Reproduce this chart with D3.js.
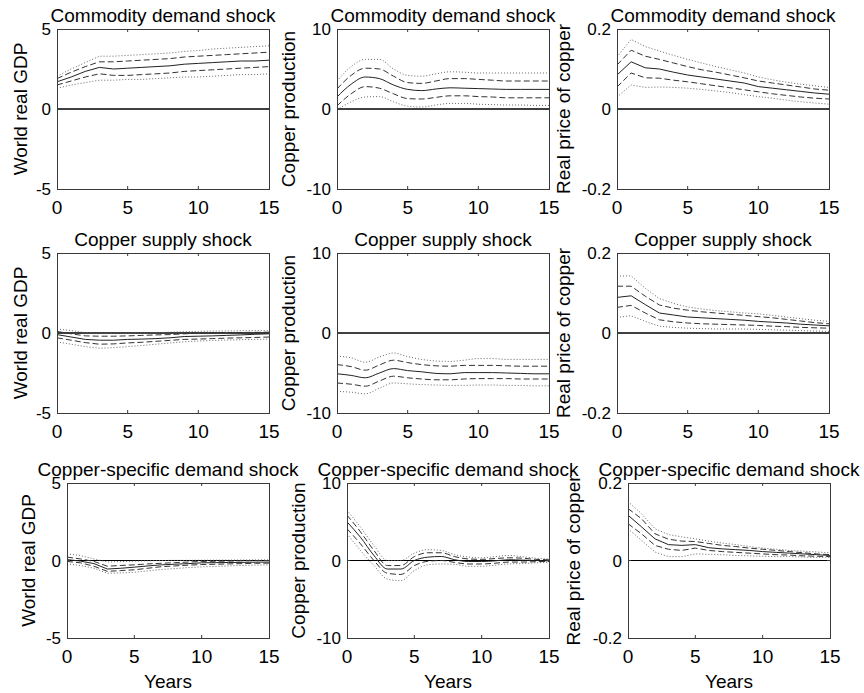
<!DOCTYPE html>
<html lang="en">
<head>
<meta charset="UTF-8">
<title>Impulse responses</title>
<style>
    body { margin: 0; padding: 0; background: #fff; overflow: hidden; }
    svg { display: block; font-family: "Liberation Sans", Arial, sans-serif; }
    .frame { fill: none; stroke: #3a3a3a; stroke-width: 1; }
    .zero { stroke: #000; }
    .med { fill: none; stroke: #222; stroke-width: 1; }
    .band1 { fill: none; stroke: #333; stroke-width: 1; stroke-dasharray: 6,3; }
    .band2 { fill: none; stroke: #666; stroke-width: 1; stroke-dasharray: 1,2; }
</style>
<script src="https://cdn.jsdelivr.net/npm/d3@7/dist/d3.min.js"></script>
</head>
<body>
<div id="chart"></div>
<script>
// horizon (years)
const years = [0, 1, 2, 3, 4, 5, 6, 7, 8, 9, 10, 11, 12, 13, 14, 15];
const xTicks = [0, 5, 10, 15];

const shocks = ["Commodity demand shock", "Copper supply shock", "Copper-specific demand shock"];
const variables = ["World real GDP", "Copper production", "Real price of copper"];
const yLimits = [5, 10, 0.2];
const yTickLabels = [["-5", "0", "5"], ["-10", "0", "10"], ["-0.2", "0", "0.2"]];

// commodity demand shock
const cdGdpMed = [1.7, 2.0, 2.35, 2.6, 2.5, 2.55, 2.6, 2.65, 2.7, 2.8, 2.85, 2.9, 2.95, 3.0, 3.0, 3.05];
const cdGdpHi1 = [1.9, 2.3, 2.65, 2.95, 2.95, 3.0, 3.05, 3.1, 3.15, 3.25, 3.3, 3.35, 3.4, 3.45, 3.5, 3.55];
const cdGdpLo1 = [1.5, 1.75, 2.0, 2.2, 2.1, 2.1, 2.15, 2.2, 2.25, 2.35, 2.4, 2.45, 2.5, 2.55, 2.6, 2.65];
const cdGdpHi2 = [2.05, 2.5, 2.9, 3.3, 3.3, 3.35, 3.4, 3.45, 3.5, 3.6, 3.65, 3.75, 3.8, 3.85, 3.9, 3.95];
const cdGdpLo2 = [1.3, 1.5, 1.65, 1.8, 1.8, 1.85, 1.85, 1.9, 1.95, 2.0, 2.0, 2.05, 2.1, 2.15, 2.15, 2.2];

const cdProdMed = [1.5, 3.1, 4.0, 3.8, 3.0, 2.45, 2.3, 2.5, 2.65, 2.6, 2.55, 2.5, 2.45, 2.45, 2.45, 2.45];
const cdProdHi1 = [2.5, 4.2, 5.1, 5.0, 4.1, 3.3, 3.2, 3.5, 3.8, 3.8, 3.7, 3.6, 3.5, 3.5, 3.5, 3.5];
const cdProdLo1 = [0.4, 1.9, 2.8, 2.6, 1.9, 1.3, 1.25, 1.45, 1.65, 1.65, 1.55, 1.5, 1.4, 1.4, 1.4, 1.4];
const cdProdHi2 = [3.5, 5.3, 6.2, 6.2, 5.0, 4.2, 4.1, 4.4, 4.65, 4.6, 4.5, 4.5, 4.5, 4.5, 4.5, 4.5];
const cdProdLo2 = [-0.1, 0.9, 1.5, 1.55, 0.9, 0.35, 0.25, 0.5, 0.7, 0.7, 0.6, 0.55, 0.5, 0.5, 0.45, 0.45];

const cdPriceMed = [0.085, 0.118, 0.103, 0.1, 0.092, 0.085, 0.08, 0.075, 0.07, 0.065, 0.056, 0.052, 0.048, 0.044, 0.04, 0.037];
const cdPriceHi1 = [0.11, 0.147, 0.132, 0.124, 0.115, 0.106, 0.098, 0.092, 0.085, 0.078, 0.07, 0.065, 0.06, 0.055, 0.05, 0.047];
const cdPriceLo1 = [0.055, 0.09, 0.078, 0.077, 0.072, 0.068, 0.063, 0.058, 0.053, 0.048, 0.043, 0.038, 0.034, 0.03, 0.027, 0.025];
const cdPriceHi2 = [0.13, 0.174, 0.156, 0.145, 0.134, 0.124, 0.115, 0.106, 0.098, 0.09, 0.08, 0.073, 0.067, 0.062, 0.058, 0.054];
const cdPriceLo2 = [0.03, 0.06, 0.054, 0.055, 0.054, 0.052, 0.049, 0.045, 0.041, 0.036, 0.031, 0.027, 0.022, 0.018, 0.015, 0.012];

// copper supply shock
const csGdpMed = [-0.1, -0.25, -0.4, -0.45, -0.45, -0.4, -0.38, -0.35, -0.3, -0.22, -0.2, -0.18, -0.15, -0.12, -0.08, -0.05];
const csGdpHi1 = [0.1, -0.05, -0.18, -0.2, -0.2, -0.18, -0.15, -0.12, -0.1, -0.05, -0.02, 0, 0.02, 0.03, 0.04, 0.05];
const csGdpLo1 = [-0.3, -0.45, -0.6, -0.7, -0.68, -0.62, -0.58, -0.52, -0.46, -0.4, -0.38, -0.35, -0.32, -0.3, -0.28, -0.25];
const csGdpHi2 = [0.25, 0.15, 0.02, 0, 0, 0, 0, 0.02, 0.05, 0.08, 0.1, 0.12, 0.13, 0.14, 0.15, 0.15];
const csGdpLo2 = [-0.55, -0.7, -0.85, -0.95, -0.92, -0.85, -0.78, -0.7, -0.62, -0.55, -0.5, -0.47, -0.44, -0.42, -0.4, -0.38];

const csProdMed = [-5.1, -5.3, -5.6, -5.0, -4.45, -4.7, -4.85, -5.05, -5.1, -4.95, -4.95, -4.95, -5.0, -5.05, -5.1, -5.1];
const csProdHi1 = [-3.95, -4.2, -4.65, -4.0, -3.4, -3.7, -3.95, -4.1, -4.15, -4.05, -4.05, -4.05, -4.1, -4.15, -4.15, -4.15];
const csProdLo1 = [-6.25, -6.4, -6.65, -6.0, -5.4, -5.6, -5.75, -5.85, -5.85, -5.75, -5.7, -5.7, -5.7, -5.75, -5.75, -5.75];
const csProdHi2 = [-2.9, -3.1, -3.65, -3.0, -2.5, -2.95, -3.3, -3.5, -3.55, -3.4, -3.2, -3.2, -3.3, -3.3, -3.3, -3.3];
const csProdLo2 = [-7.3, -7.4, -7.6, -6.9, -6.25, -6.35, -6.45, -6.5, -6.55, -6.55, -6.5, -6.5, -6.55, -6.55, -6.6, -6.6];

const csPriceMed = [0.089, 0.093, 0.071, 0.05, 0.045, 0.04, 0.038, 0.036, 0.034, 0.032, 0.029, 0.027, 0.025, 0.022, 0.02, 0.018];
const csPriceHi1 = [0.117, 0.117, 0.092, 0.07, 0.062, 0.057, 0.053, 0.05, 0.047, 0.044, 0.041, 0.038, 0.034, 0.03, 0.026, 0.023];
const csPriceLo1 = [0.064, 0.069, 0.05, 0.033, 0.028, 0.025, 0.023, 0.022, 0.021, 0.02, 0.019, 0.017, 0.016, 0.014, 0.013, 0.012];
const csPriceHi2 = [0.142, 0.143, 0.112, 0.086, 0.074, 0.065, 0.06, 0.056, 0.053, 0.05, 0.048, 0.044, 0.04, 0.036, 0.032, 0.029];
const csPriceLo2 = [0.039, 0.043, 0.029, 0.017, 0.014, 0.012, 0.011, 0.01, 0.01, 0.01, 0.009, 0.008, 0.007, 0.006, 0.005, 0.004];

// copper-specific demand shock
const sdGdpMed = [0.06, -0.04, -0.2, -0.55, -0.5, -0.43, -0.35, -0.28, -0.24, -0.2, -0.15, -0.14, -0.13, -0.12, -0.11, -0.1];
const sdGdpHi1 = [0.22, 0.1, -0.06, -0.37, -0.32, -0.28, -0.22, -0.18, -0.14, -0.1, -0.06, -0.05, -0.04, -0.02, -0.01, 0];
const sdGdpLo1 = [-0.06, -0.15, -0.37, -0.7, -0.65, -0.6, -0.5, -0.4, -0.35, -0.3, -0.26, -0.24, -0.22, -0.2, -0.18, -0.17];
const sdGdpHi2 = [0.43, 0.32, 0.1, -0.1, -0.07, -0.04, -0.02, 0, 0.01, 0.01, 0.02, 0.02, 0.03, 0.03, 0.04, 0.04];
const sdGdpLo2 = [-0.22, -0.32, -0.5, -0.82, -0.8, -0.76, -0.67, -0.58, -0.52, -0.46, -0.41, -0.38, -0.35, -0.32, -0.3, -0.28];

const sdProdMed = [4.98, 3.0, 0.65, -1.1, -1.1, 0.0, 0.43, 0.52, 0.1, -0.13, -0.13, -0.05, 0.1, 0.05, 0.0, -0.05];
const sdProdHi1 = [5.85, 3.7, 1.3, -0.65, -0.65, 0.5, 1.0, 1.0, 0.5, 0.2, 0.15, 0.25, 0.35, 0.3, 0.15, 0.1];
const sdProdLo1 = [4.1, 2.15, 0.0, -1.65, -1.8, -0.65, -0.1, 0.0, -0.25, -0.45, -0.45, -0.35, -0.2, -0.2, -0.15, -0.12];
const sdProdHi2 = [6.5, 4.3, 1.95, 0.0, 0.0, 0.95, 1.4, 1.3, 0.75, 0.45, 0.35, 0.5, 0.65, 0.5, 0.3, 0.2];
const sdProdLo2 = [3.45, 1.3, -0.65, -2.4, -2.6, -1.3, -0.55, -0.45, -0.5, -0.75, -0.75, -0.6, -0.45, -0.4, -0.3, -0.25];

const sdPriceMed = [0.117, 0.087, 0.056, 0.041, 0.039, 0.041, 0.033, 0.03, 0.028, 0.026, 0.023, 0.021, 0.019, 0.017, 0.015, 0.013];
const sdPriceHi1 = [0.134, 0.108, 0.069, 0.055, 0.05, 0.049, 0.044, 0.039, 0.036, 0.032, 0.029, 0.026, 0.023, 0.02, 0.017, 0.015];
const sdPriceLo1 = [0.095, 0.069, 0.039, 0.029, 0.026, 0.032, 0.026, 0.023, 0.021, 0.019, 0.017, 0.015, 0.014, 0.012, 0.011, 0.01];
const sdPriceHi2 = [0.152, 0.121, 0.082, 0.067, 0.061, 0.056, 0.05, 0.045, 0.041, 0.036, 0.032, 0.029, 0.026, 0.024, 0.022, 0.02];
const sdPriceLo2 = [0.082, 0.052, 0.022, 0.01, 0.01, 0.017, 0.016, 0.015, 0.013, 0.012, 0.011, 0.01, 0.01, 0.009, 0.008, 0.008];

// panels[row][col] -> [lo2, lo1, med, hi1, hi2]
const panels = [
    [[cdGdpLo2, cdGdpLo1, cdGdpMed, cdGdpHi1, cdGdpHi2],
     [cdProdLo2, cdProdLo1, cdProdMed, cdProdHi1, cdProdHi2],
     [cdPriceLo2, cdPriceLo1, cdPriceMed, cdPriceHi1, cdPriceHi2]],
    [[csGdpLo2, csGdpLo1, csGdpMed, csGdpHi1, csGdpHi2],
     [csProdLo2, csProdLo1, csProdMed, csProdHi1, csProdHi2],
     [csPriceLo2, csPriceLo1, csPriceMed, csPriceHi1, csPriceHi2]],
    [[sdGdpLo2, sdGdpLo1, sdGdpMed, sdGdpHi1, sdGdpHi2],
     [sdProdLo2, sdProdLo1, sdProdMed, sdProdHi1, sdProdHi2],
     [sdPriceLo2, sdPriceLo1, sdPriceMed, sdPriceHi1, sdPriceHi2]]
];

const rowTop = [29, 253, 483];
const rowBottom = [189, 413, 638];
const colLeft = [[57, 337, 617], [57, 337, 617], [67, 347, 628]];
const colWidth = [212, 212, 202];
const labelGap = [[30, 42, 47], [30, 42, 47], [32, 42, 48]];
const font = '"Liberation Sans", Arial, sans-serif';

const svg = d3.select('#chart').append('svg')
    .attr('width', 864)
    .attr('height', 693);

const bandClass = ['band2', 'band1', 'med', 'band1', 'band2'];

panels.forEach((row, r) => {
    row.forEach((series, c) => {
        const left = colLeft[r][c];
        const right = left + colWidth[r];
        const top = rowTop[r];
        const bottom = rowBottom[r];
        const lim = yLimits[c];

        const x = d3.scaleLinear().domain([0, 15]).range([left, right]);
        const y = d3.scaleLinear().domain([-lim, lim]).range([bottom, top]);

        const g = svg.append('g');
        const clipId = `clip-${r}-${c}`;
        g.append('clipPath').attr('id', clipId)
            .append('rect')
            .attr('x', left).attr('y', top)
            .attr('width', right - left).attr('height', bottom - top);

        // zero line
        g.append('line')
            .attr('class', 'zero')
            .attr('x1', left).attr('x2', right)
            .attr('y1', y(0)).attr('y2', y(0))
            .attr('stroke-width', r < 2 ? 1.6 : 1);

        // responses
        const line = d3.line()
            .x((d, i) => x(years[i]))
            .y(d => y(d))
            .curve(c === 1 ? d3.curveMonotoneX : d3.curveLinear);

        g.append('g').attr('clip-path', `url(#${clipId})`)
            .selectAll('path')
            .data(series)
            .join('path')
            .attr('class', (d, i) => bandClass[i])
            .attr('d', line);

        // inward ticks, all four sides (matlab box style)
        const tl = 3;
        const yt = [-lim, 0, lim];
        g.selectAll('.xt')
            .data(xTicks.slice(1, -1))
            .join('path')
            .attr('stroke', '#3a3a3a')
            .attr('d', d => `M${x(d)},${bottom}v${-tl}M${x(d)},${top}v${tl}`);
        g.selectAll('.yt')
            .data(yt.slice(1, -1))
            .join('path')
            .attr('stroke', '#3a3a3a')
            .attr('d', d => `M${left},${y(d)}h${tl}M${right},${y(d)}h${-tl}`);

        g.append('rect')
            .attr('class', 'frame')
            .attr('x', left + 0.5).attr('y', top + 0.5)
            .attr('width', right - left).attr('height', bottom - top);

        // y tick labels
        g.selectAll('.ytl')
            .data(yt)
            .join('text')
            .attr('x', left - 6)
            .attr('y', d => y(d))
            .attr('dy', '0.36em')
            .attr('text-anchor', 'end')
            .attr('font-size', 17)
            .attr('font-family', font)
            .text((d, i) => yTickLabels[c][i]);

        // x tick labels
        g.selectAll('.xtl')
            .data(xTicks)
            .join('text')
            .attr('x', d => x(d))
            .attr('y', bottom + 25)
            .attr('text-anchor', 'middle')
            .attr('font-size', 19)
            .attr('font-family', font)
            .text(d => d);

        // title
        g.append('text')
            .attr('x', (left + right) / 2)
            .attr('y', top - 7)
            .attr('text-anchor', 'middle')
            .attr('font-size', 19)
            .attr('font-family', font)
            .text(shocks[r]);

        // y label
        g.append('text')
            .attr('transform', `translate(${left - labelGap[r][c]},${(top + bottom) / 2}) rotate(-90)`)
            .attr('text-anchor', 'middle')
            .attr('font-size', 19)
            .attr('font-family', font)
            .text(variables[c]);

        if (r === 2) {
            g.append('text')
                .attr('x', (left + right) / 2)
                .attr('y', 688)
                .attr('text-anchor', 'middle')
                .attr('font-size', 19)
                .attr('font-family', font)
                .text('Years');
        }
    });
});
</script>
</body>
</html>
